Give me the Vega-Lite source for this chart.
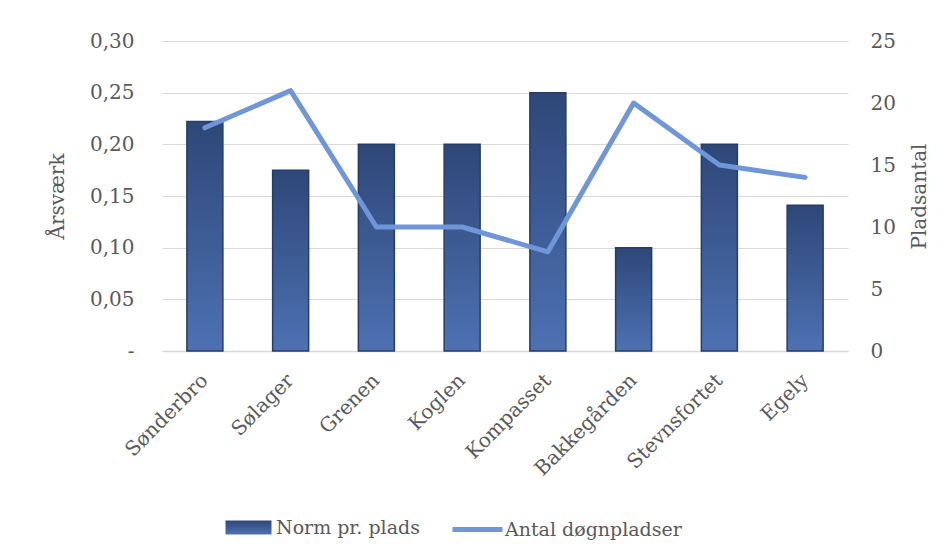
{
  "$schema": "https://vega.github.io/schema/vega-lite/v6.json",
  "width": 686,
  "height": 310,
  "autosize": "none",
  "padding": {"left": 162, "top": 41, "right": 104, "bottom": 209},
  "background": "white",
  "config": {
    "font": "DejaVu Serif",
    "view": {"stroke": null},
    "axis": {
      "labelFont": "DejaVu Serif",
      "titleFont": "DejaVu Serif",
      "labelColor": "#595959",
      "titleColor": "#595959",
      "labelFontSize": 20,
      "titleFontSize": 20,
      "titleFontWeight": "normal",
      "domain": false,
      "ticks": false,
      "gridColor": "#d9d9d9",
      "gridWidth": 1
    },
    "legend": {
      "labelFont": "DejaVu Serif",
      "labelFontSize": 19,
      "labelColor": "#595959",
      "labelLimit": 400
    }
  },
  "data": {
    "values": [
      {"name": "Sønderbro", "norm": 0.222, "antal": 18},
      {"name": "Sølager", "norm": 0.175, "antal": 21},
      {"name": "Grenen", "norm": 0.2, "antal": 10},
      {"name": "Koglen", "norm": 0.2, "antal": 10},
      {"name": "Kompasset", "norm": 0.25, "antal": 8},
      {"name": "Bakkegården", "norm": 0.1, "antal": 20},
      {"name": "Stevnsfortet", "norm": 0.2, "antal": 15},
      {"name": "Egely", "norm": 0.141, "antal": 14}
    ]
  },
  "layer": [
    {
      "mark": {
        "type": "bar",
        "size": 36,
        "stroke": "#263d69",
        "strokeWidth": 1.5,
        "fill": {"gradient": "linear", "x1": 0, "y1": 0, "x2": 0, "y2": 1,
                 "stops": [{"offset": 0, "color": "#2e4778"}, {"offset": 1, "color": "#4d71b2"}]}
      },
      "encoding": {
        "x": {
          "field": "name",
          "type": "nominal",
          "sort": null,
          "axis": {"title": null, "labelAngle": -45, "labelBaseline": "middle", "domain": true, "domainColor": "#d9d9d9", "domainWidth": 1.5, "labelPadding": 26}
        },
        "y": {
          "field": "norm",
          "type": "quantitative",
          "scale": {"domain": [0, 0.3]},
          "axis": {
            "title": "Årsværk",
            "orient": "left",
            "values": [0, 0.05, 0.1, 0.15, 0.2, 0.25, 0.3],
            "labelExpr": "datum.value == 0 ? '-' : replace(format(datum.value, '.2f'), '.', ',')",
            "grid": true,
            "labelPadding": 28,
            "titlePadding": 22
          }
        },
        "opacity": {
          "datum": "Norm pr. plads",
          "type": "nominal",
          "scale": {"range": [1]},
          "legend": {
            "title": null,
            "orient": "none",
            "legendX": 63,
            "legendY": 463,
            "symbolType": "M-1,-0.3L1,-0.3L1,0.3L-1,0.3Z",
            "symbolSize": 2116,
            "symbolFillColor": "#3a5890",
            "symbolStrokeColor": "#263d69",
            "symbolStrokeWidth": 1,
            "symbolOpacity": 1,
            "labelOffset": 4
          }
        }
      }
    },
    {
      "mark": {"type": "line", "strokeWidth": 5, "strokeCap": "round", "strokeJoin": "round"},
      "encoding": {
        "x": {"field": "name", "type": "nominal", "sort": null},
        "y": {
          "field": "antal",
          "type": "quantitative",
          "scale": {"domain": [0, 25]},
          "axis": {
            "title": "Pladsantal",
            "orient": "right",
            "grid": false,
            "values": [0, 5, 10, 15, 20, 25],
            "labelPadding": 22,
            "titlePadding": 34,
            "titleAngle": -90
          }
        },
        "stroke": {
          "datum": "Antal døgnpladser",
          "type": "nominal",
          "scale": {"range": ["#6f96d8"]},
          "legend": {
            "title": null,
            "orient": "none",
            "legendX": 288,
            "legendY": 461,
            "symbolType": "stroke",
            "symbolSize": 2500,
            "symbolStrokeWidth": 5,
            "labelOffset": 0
          }
        }
      }
    }
  ],
  "resolve": {"scale": {"y": "independent"}}
}
